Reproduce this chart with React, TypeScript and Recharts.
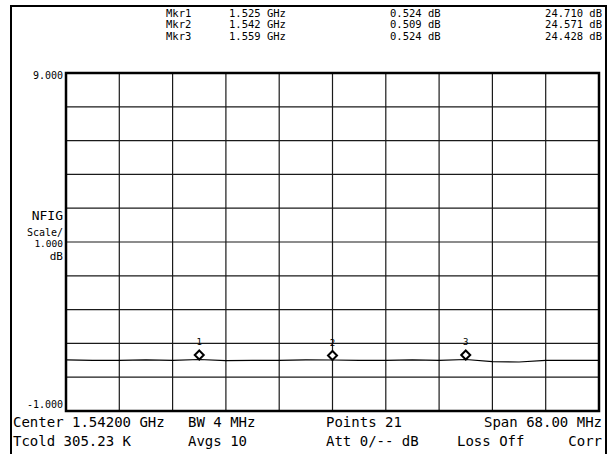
import React from 'react';
import { CartesianGrid, ComposedChart, Line, ReferenceArea, Scatter, XAxis, YAxis } from 'recharts';

// sweep: 1.508 - 1.576 GHz, 21 points
const freqMHz = [
  1508, 1511.4, 1514.8, 1518.2, 1521.6, 1525, 1528.4, 1531.8, 1535.2, 1538.6, 1542,
  1545.4, 1548.8, 1552.2, 1555.6, 1559, 1562.4, 1565.8, 1569.2, 1572.6, 1576,
];
const nfigDb = [
  0.51, 0.5, 0.5, 0.51, 0.5, 0.524, 0.49, 0.5, 0.5, 0.51, 0.509,
  0.5, 0.5, 0.51, 0.5, 0.524, 0.46, 0.45, 0.5, 0.5, 0.5,
];

const freqTicks = [1508, 1514.8, 1521.6, 1528.4, 1535.2, 1542, 1548.8, 1555.6, 1562.4, 1569.2, 1576];
const dbTicks = [-1, 0, 1, 2, 3, 4, 5, 6, 7, 8, 9];

const markerNames = ['Mkr1', 'Mkr2', 'Mkr3'];
const markerFreqs = [1525, 1542, 1559];
const markerDb = [0.524, 0.509, 0.524];
const markerGain = [24.71, 24.571, 24.428];

const traceData = freqMHz.map((freq, i) => ({ freq, nfig: nfigDb[i] }));
const markerData = markerFreqs.map((freq, i) => ({ freq, nfig: markerDb[i], label: String(i + 1) }));

const mono = '"DejaVu Sans Mono", "Liberation Mono", monospace';

const Txt: React.FC<{ x: number; y: number; size: number; right?: boolean; children: React.ReactNode }> = ({ x, y, size, right, children }) => (
  <div
    style={{
      position: 'absolute',
      top: y - size / 2,
      left: right ? undefined : x,
      right: right ? 608 - x : undefined,
      fontFamily: mono,
      fontSize: size,
      lineHeight: `${size}px`,
      whiteSpace: 'pre',
      color: '#000',
    }}
  >
    {children}
  </div>
);

const MarkerShape = (props: any) => {
  const { cx, cy, payload } = props;
  if (cx == null || cy == null) return null;
  return (
    <g>
      <path
        d={`M${cx},${cy - 9} L${cx + 4.5},${cy - 4.5} L${cx},${cy} L${cx - 4.5},${cy - 4.5} Z`}
        fill="#fff"
        stroke="#000"
        strokeWidth={2}
      />
      <text x={cx} y={cy - 14} textAnchor="middle" fontFamily={mono} fontSize={9} fill="#000">
        {payload.label}
      </text>
    </g>
  );
};

export default function App() {
  return (
    <div style={{ position: 'absolute', left: 0, top: 0, width: 608, height: 454, background: '#fff', overflow: 'hidden' }}>
      <div
        style={{
          position: 'absolute',
          left: 10,
          top: 5,
          width: 593,
          height: 460,
          border: '2.5px solid #000',
        }}
      />
      <ComposedChart
        width={608}
        height={454}
        margin={{ top: 73, right: 9, bottom: 43, left: 66 }}
        style={{ position: 'absolute', left: 0, top: 0 }}
      >
        <XAxis dataKey="freq" type="number" domain={[1508, 1576]} ticks={freqTicks} hide />
        <YAxis dataKey="nfig" type="number" domain={[-1, 9]} ticks={dbTicks} hide />
        <CartesianGrid stroke="#1a1a1a" strokeWidth={1.2} />
        <ReferenceArea x1={1508} x2={1576} y1={-1} y2={9} fill="none" stroke="#000" strokeWidth={2.5} />
        <Line
          data={traceData}
          dataKey="nfig"
          type="linear"
          stroke="#000"
          strokeWidth={1.2}
          dot={false}
          isAnimationActive={false}
        />
        <Scatter data={markerData} dataKey="nfig" shape={MarkerShape} isAnimationActive={false} />
      </ComposedChart>

      {markerNames.map((name, i) => (
        <React.Fragment key={name}>
          <Txt x={166} y={13 + i * 11.5} size={10.5}>{name}</Txt>
          <Txt x={229} y={13 + i * 11.5} size={10.5}>{`${(markerFreqs[i] / 1000).toFixed(3)} GHz`}</Txt>
          <Txt x={390} y={13 + i * 11.5} size={10.5}>{`${markerDb[i].toFixed(3)} dB`}</Txt>
          <Txt x={602} y={13 + i * 11.5} size={10.5} right>{`${markerGain[i].toFixed(3)} dB`}</Txt>
        </React.Fragment>
      ))}

      <Txt x={63} y={76} size={10} right>9.000</Txt>
      <Txt x={63} y={405} size={10} right>-1.000</Txt>
      <Txt x={63} y={215} size={13} right>NFIG</Txt>
      <Txt x={63} y={233} size={10} right>Scale/</Txt>
      <Txt x={63} y={243.5} size={9.5} right>1.000</Txt>
      <Txt x={63} y={256} size={11} right>dB</Txt>

      <Txt x={13} y={422} size={14}>Center 1.54200 GHz</Txt>
      <Txt x={188} y={422} size={14}>BW 4 MHz</Txt>
      <Txt x={326} y={422} size={14}>Points 21</Txt>
      <Txt x={602} y={422} size={14} right>Span 68.00 MHz</Txt>
      <Txt x={13} y={441} size={14}>Tcold 305.23 K</Txt>
      <Txt x={188} y={441} size={14}>Avgs 10</Txt>
      <Txt x={326} y={441} size={14}>Att 0/-- dB</Txt>
      <Txt x={457} y={441} size={14}>Loss Off</Txt>
      <Txt x={602} y={441} size={14} right>Corr</Txt>
    </div>
  );
}
